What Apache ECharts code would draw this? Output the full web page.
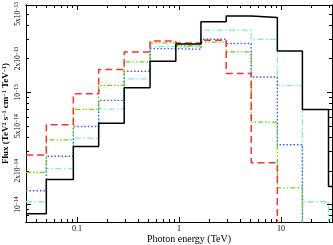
<!DOCTYPE html>
<html><head><meta charset="utf-8">
<script src="https://cdn.jsdelivr.net/npm/echarts@6/dist/echarts.min.js"></script>
<style>html,body{margin:0;padding:0;background:#fff}#c{width:333px;height:245px}</style>
</head><body><div id="c"></div>
<script>
// Bin edges (TeV)
const edges = [0.0316, 0.05, 0.092, 0.163, 0.29, 0.52, 0.93, 1.64, 2.9, 5.1, 9.2, 16.2, 29.2, 31.6];
const FLOOR = 1e-16; // below the plotted range
// Flux per bin
const black = [8.3e-15, 1.67e-14, 3.3e-14, 5.3e-14, 1.10e-13, 1.89e-13, 2.70e-13, 4.25e-13, 4.8e-13, 4.64e-13, 2.34e-13, 7.05e-14, 1.45e-14];
const red   = [2.76e-14, 5.15e-14, 9.7e-14, 1.60e-13, 2.29e-13, 2.87e-13, 2.75e-13, 2.91e-13, 1.47e-13, 2.36e-14, FLOOR];
const green = [1.94e-14, 3.78e-14, 7.05e-14, 1.155e-13, 1.87e-13, 2.76e-13, 2.6e-13, 2.8e-13, 2.29e-13, 5.43e-14, 1.41e-14, FLOOR];
const blue  = [1.33e-14, 2.70e-14, 4.96e-14, 8.49e-14, 1.54e-13, 2.45e-13, 2.42e-13, 2.97e-13, 2.72e-13, 1.37e-13, 3.41e-14, FLOOR];
const cyan  = [1.06e-14, 2.09e-14, 3.91e-14, 7.1e-14, 1.32e-13, 2.55e-13, 2.54e-13, 3.58e-13, 3.58e-13, 2.96e-13, 1.155e-13, 1.06e-14, FLOOR];
// Axis ticks
const xMin = 0.0316, xMax = 31.6;
const yMin = 7e-15, yMax = 6e-13;
const xMajor = [0.1, 1, 10];
const xMinor = [0.04,0.05,0.06,0.07,0.08,0.09,0.2,0.3,0.4,0.5,0.6,0.7,0.8,0.9,2,3,4,5,6,7,8,9,20,30];
const yMajor = [1e-14, 1e-13];
const yLabels = [1e-14, 2e-14, 5e-14, 1e-13, 2e-13, 5e-13];
const yMinor = [8e-15,9e-15,2e-14,3e-14,4e-14,5e-14,6e-14,7e-14,8e-14,9e-14,2e-13,3e-13,4e-13,5e-13];

const FONT = 'Liberation Serif';
function steps(vals){
  const d = vals.map((v,i)=>[edges[i], v]);
  d.push([edges[vals.length], vals[vals.length-1]]);
  return d;
}
function yFmt(v){
  const e = Math.floor(Math.log10(v) + 1e-9);
  const m = Math.round(v / Math.pow(10, e));
  const ex = '{s|\u2212' + Math.abs(e) + '}';
  return (m === 1 ? '{n|10}' : '{n|' + m + 'x10}') + ex;
}
const gridRect = {left: 26, right: 1, top: 5, bottom: 23, containLabel: false, outerBoundsMode: 'none'};
const lineAx = {show: true, lineStyle: {color: '#000', width: 1}};
function xAx(grid, pos, ticks, len, labels){
  return {type: 'log', gridIndex: grid, position: pos, min: xMin, max: xMax,
    axisLine: lineAx, splitLine: {show: false},
    axisTick: {show: true, inside: true, length: len, customValues: ticks, lineStyle: {color: '#000', width: 1}},
    axisLabel: labels ? {show: true, customValues: labels, fontFamily: FONT, fontSize: 8, color: '#000', margin: 3,
      formatter: v => String(+v.toPrecision(3))} : {show: false}};
}
function yAx(grid, pos, ticks, len, labels){
  return {type: 'log', gridIndex: grid, position: pos, min: yMin, max: yMax,
    axisLine: lineAx, splitLine: {show: false},
    axisTick: {show: true, inside: true, length: len, customValues: ticks, lineStyle: {color: '#000', width: 1}},
    axisLabel: labels ? {show: true, customValues: labels, rotate: 90, color: '#000', margin: 3,
      formatter: yFmt, rich: {
        n: {fontFamily: FONT, fontSize: 7.5, color: '#000'},
        s: {fontFamily: FONT, fontSize: 5.5, color: '#000', verticalAlign: 'bottom', padding: [0,0,3,0]}}} : {show: false}};
}
const xAxes = [xAx(0,'bottom',xMajor,5,xMajor), xAx(0,'top',xMajor,5,null), xAx(1,'bottom',xMinor,3,null), xAx(1,'top',xMinor,3,null)];
Object.assign(xAxes[0], {name: 'Photon energy (TeV)', nameLocation: 'middle', nameGap: 12, nameMoveOverlap: false,
  nameTextStyle: {fontFamily: FONT, fontSize: 10, color: '#000', padding: [0,0,0,20]}});
const yAxes = [yAx(0,'left',yMajor,5,yLabels), yAx(0,'right',yMajor,5,null), yAx(1,'left',yMinor,3,null), yAx(1,'right',yMinor,3,null)];
Object.assign(yAxes[0], {name: '{b|Flux (TeV}{s|2}{b| s}{s|\u22121}{b| cm}{s|\u22121}{b| TeV}{s|\u22121}{b|)}', nameLocation: 'middle', nameGap: 15, nameMoveOverlap: false,
  nameTextStyle: {color: '#000',
    rich: {b: {fontFamily: FONT, fontSize: 9, fontWeight: 'bold', color: '#000'},
           s: {fontFamily: FONT, fontSize: 6, fontWeight: 'bold', color: '#000', verticalAlign: 'bottom', padding: [0,0,4,0]}}}});

function ser(name, vals, color, type, width){
  return {name, type: 'line', xAxisIndex: 0, yAxisIndex: 0, step: 'end', symbol: 'none', clip: true,
    data: steps(vals), lineStyle: {color, width, type}, animation: false};
}
const chart = echarts.init(document.getElementById('c'), null, {renderer: 'canvas'});
chart.setOption({
  animation: false,
  backgroundColor: '#fff',
  grid: [Object.assign({}, gridRect), Object.assign({}, gridRect)],
  xAxis: xAxes, yAxis: yAxes,
  series: [
    ser('cyan', cyan, '#78f0d8', [6,2.5,1.5,2.5], 1.3),
    ser('blue', blue, '#3a5cff', [1.5,2], 1.4),
    ser('green', green, '#6ad814', [5,2,1.5,2,1.5,2], 1.3),
    ser('red', red, '#ff3030', [7,4], 1.5),
    ser('black', black, '#000', 'solid', 1.5)
  ]
});
</script></body></html>
